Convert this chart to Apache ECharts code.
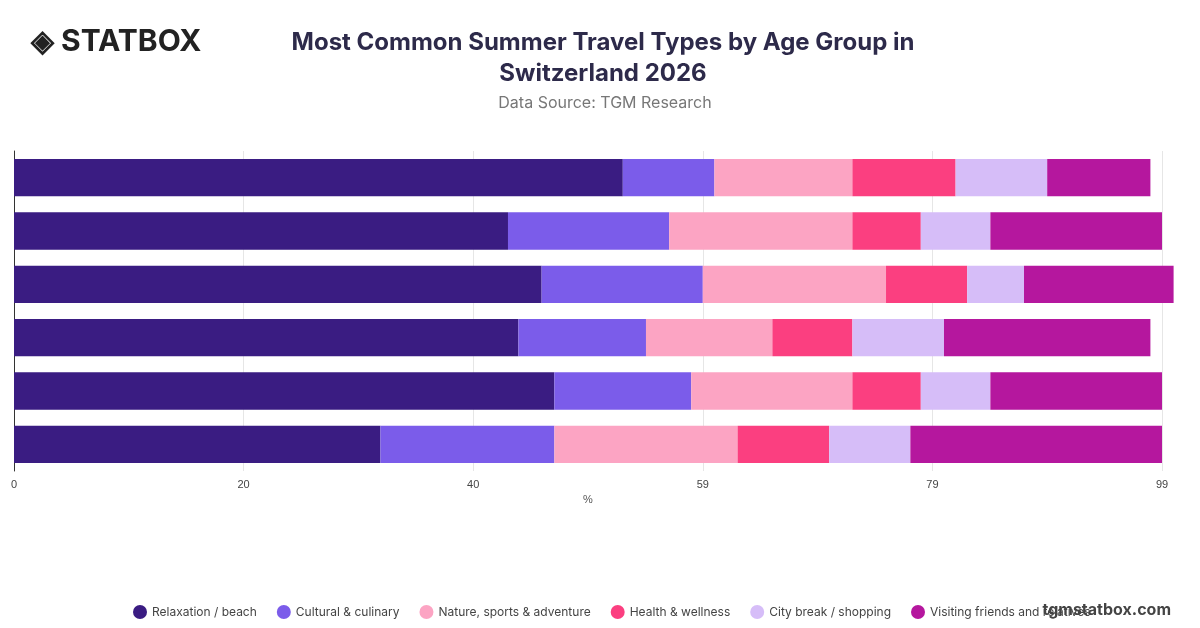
<!DOCTYPE html>
<html><head><meta charset="utf-8">
<script src="https://cdn.jsdelivr.net/npm/echarts@6/dist/echarts.min.js"></script>
<style>body{margin:0}#c{width:1200px;height:628px}</style></head>
<body><div id="c"></div>
<script>
const categories = ["16-24","25-34","35-44","45-54","55-64","65+"];
const seriesNames = ["Relaxation / beach","Cultural & culinary","Nature, sports & adventure","Health & wellness","City break / shopping","Visiting friends and relatives"];
const relaxation = [52.5,42.6,45.5,43.5,46.6,31.6];
const cultural = [7.9,13.9,13.9,11.0,11.8,15.0];
const nature = [11.9,15.8,15.8,10.9,13.9,15.8];
const health = [8.9,5.9,7.0,6.9,5.9,7.9];
const cityBreak = [7.9,6.0,4.9,7.9,6.0,7.0];
const visiting = [8.9,14.8,12.9,17.8,14.8,21.7];
const colors = ["#3a1c82","#7b5cea","#fca4c3","#fb3f80","#d6bdf8","#b5179e"];
const values = [relaxation,cultural,nature,health,cityBreak,visiting];
const chart = echarts.init(document.getElementById('c'));
chart.setOption({
  animation:false,
  title:[{text:"Most Common Summer Travel Types by Age Group in\nSwitzerland 2026",left:598,top:22,textAlign:'center',
    textStyle:{fontFamily:'Inter',fontSize:24,fontWeight:'bold',color:'#2d2a4a',lineHeight:31}},
    {text:"Data Source: TGM Research",left:600,top:90,textAlign:'center',textStyle:{fontFamily:'Inter',fontSize:16,fontWeight:'normal',color:'#777'}},
    {text:"◈ STATBOX",left:26,top:22,textStyle:{fontFamily:'Inter',fontSize:30,fontWeight:'bold',color:'#222'}},
    {text:"tgmstatbox.com",right:24,top:597,textStyle:{fontFamily:'Inter',fontSize:16,fontWeight:'bold',color:'#444'}}],
  grid:{left:14,right:38,top:151,bottom:157},
  legend:{bottom:4,left:128,icon:'circle',itemWidth:14,itemHeight:14,itemGap:20,
    textStyle:{fontFamily:'Inter',fontSize:12,color:'#444'},data:seriesNames},
  xAxis:{type:'value',min:0,max:99,interval:19.8,name:'%',nameLocation:'middle',nameGap:22,
    nameTextStyle:{fontSize:11,color:'#555'},
    axisLabel:{fontSize:11,color:'#444',formatter:v=>Math.round(v)},
    splitLine:{lineStyle:{color:'#e6e6e6'}},axisLine:{show:false}},
  yAxis:{type:'category',data:categories,inverse:true,axisLabel:{show:false},axisTick:{show:false},
    axisLine:{lineStyle:{color:'#333'}}},
  series:seriesNames.map((n,i)=>({name:n,type:'bar',stack:'a',clip:false,barWidth:'70%',data:values[i],itemStyle:{color:colors[i]}}))
});
</script></body></html>
